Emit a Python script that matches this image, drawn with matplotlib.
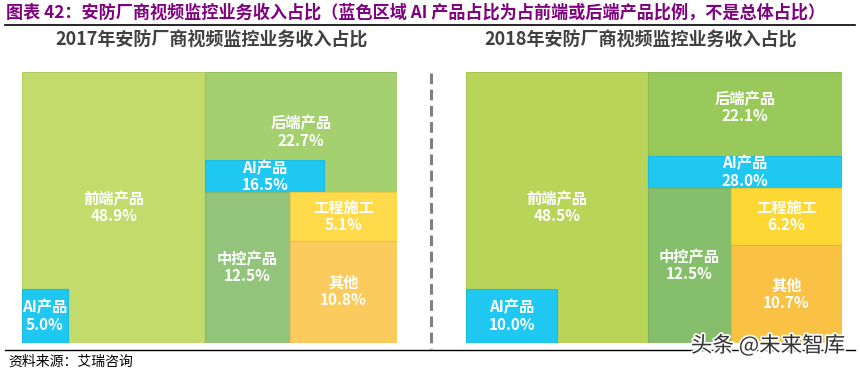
import matplotlib
matplotlib.use("Agg")
import matplotlib.pyplot as plt
from matplotlib.patches import Rectangle
from matplotlib.lines import Line2D
import matplotlib.patheffects as pe
import matplotlib.colors as mcolors

plt.rcParams['font.family'] = ['Noto Sans CJK SC', 'DejaVu Sans']

# ---------------- data ----------------
years = ["2017", "2018"]
categories = ["前端产品", "后端产品", "中控产品", "工程施工", "其他"]
share_2017 = [48.9, 22.7, 12.5, 5.1, 10.8]
share_2018 = [48.5, 22.1, 12.5, 6.2, 10.7]
ai_label = "AI产品"
ai_front = [5.0, 10.0]    # AI share of front-end products (%)
ai_back = [16.5, 28.0]    # AI share of back-end products (%)

title = "图表 42：安防厂商视频监控业务收入占比（蓝色区域 AI 产品占比为占前端或后端产品比例，不是总体占比）"
subtitle_tpl = "{}年安防厂商视频监控业务收入占比"
source = "资料来源：艾瑞咨询"
watermark = "头条 @未来智库"

# ---------------- styles ----------------
colors = [
    {"前端产品": "#C2DB6B", "后端产品": "#A5D070", "中控产品": "#93C47C",
     "工程施工": "#FFDA4A", "其他": "#FBCB5E", "AI": "#1FC8F0"},
    {"前端产品": "#B9D559", "后端产品": "#99C95A", "中控产品": "#86BF6B",
     "工程施工": "#FDD835", "其他": "#F9C244", "AI": "#1FC8F0"},
]
ai_front_wfrac = [0.25, 0.5]
ai_back_wfrac = [0.62, 1.0]

W, H = 860, 371
fig = plt.figure(figsize=(W / 100, H / 100), dpi=100)
fig.patch.set_facecolor("white")

LABEL_FS = 11


def px_axes(x0, y0, x1, y1):
    return fig.add_axes([x0 / W, 1 - y1 / H, (x1 - x0) / W, (y1 - y0) / H])


def darker(c, f=0.93):
    r, g, b = mcolors.to_rgb(c)
    return (r * f, g * f, b * f)


def put_label(ax, x, y, text):
    ax.text(x, y, text, ha="center", va="center", color="white",
            fontsize=LABEL_FS, fontweight="bold", linespacing=1.1)


def cell(ax, x, y, w, h, color, text=None):
    ax.add_patch(Rectangle((x, y), w, h, facecolor=color,
                           edgecolor=darker(color), lw=0.8))
    if text is not None:
        put_label(ax, x + w / 2, y + h / 2, text)


def treemap(ax, vals, afront, aback, cols, wf_front, wf_back):
    front, back, mid, eng, other = vals
    total = sum(vals)
    fw = front / total
    rw = 1 - fw
    bh = back / (total - front)
    mw = mid / (mid + eng + other) * rw
    eh = eng / (eng + other) * (1 - bh)
    lbl = lambda name, v: f"{name}\n{v:.1f}%"
    # front-end
    cell(ax, 0, 0, fw, 1, cols["前端产品"], lbl(categories[0], front))
    # AI inside front-end (bottom-left)
    afw = wf_front * fw
    afh = (afront / 100) / wf_front
    cell(ax, 0, 1 - afh, afw, afh, cols["AI"], lbl(ai_label, afront))
    # back-end
    abh = (aback / 100) / wf_back * bh
    if wf_back >= 1:
        cell(ax, fw, 0, rw, bh, cols["后端产品"])
        put_label(ax, fw + rw / 2, (bh - abh) / 2 * 0.85,
                  lbl(categories[1], back))
    else:
        cell(ax, fw, 0, rw, bh, cols["后端产品"], lbl(categories[1], back))
    cell(ax, fw, bh - abh, wf_back * rw, abh, cols["AI"], lbl(ai_label, aback))
    # middle control
    cell(ax, fw, bh, mw, 1 - bh, cols["中控产品"], lbl(categories[2], mid))
    # engineering
    cell(ax, fw + mw, bh, rw - mw, eh, cols["工程施工"], lbl(categories[3], eng))
    # other
    cell(ax, fw + mw, bh + eh, rw - mw, 1 - bh - eh, cols["其他"],
         lbl(categories[4], other))
    ax.set_xlim(0, 1)
    ax.set_ylim(1, 0)
    ax.axis("off")


panels = [(22, 72, 397, 343), (466, 72, 842, 343)]
all_shares = [share_2017, share_2018]
for i, (x0, y0, x1, y1) in enumerate(panels):
    ax = px_axes(x0, y0, x1, y1)
    treemap(ax, all_shares[i], ai_front[i], ai_back[i], colors[i],
            ai_front_wfrac[i], ai_back_wfrac[i])

# titles
fig.text(6 / W, 1 - 13 / H, title, ha="left", va="center", color="#800080",
         fontsize=12.3, fontweight="bold")
fig.add_artist(Line2D([5 / W, 855 / W], [1 - 25 / H, 1 - 25 / H],
                      color="black", lw=1.2))
fig.text(212 / W, 1 - 40 / H, subtitle_tpl.format(years[0]), ha="center",
         va="center", color="#404040", fontsize=13, fontweight="bold")
fig.text(641 / W, 1 - 40 / H, subtitle_tpl.format(years[1]), ha="center",
         va="center", color="#404040", fontsize=13, fontweight="bold")

# dashed separator
fig.add_artist(Line2D([431 / W, 431 / W], [1 - 73 / H, 1 - 349 / H],
                      color="#808080", lw=2.2, linestyle=(0, (3.5, 1.8))))

# bottom line and source
fig.add_artist(Line2D([5 / W, 855 / W], [1 - 350 / H, 1 - 350 / H],
                      color="black", lw=1.0))
fig.text(8 / W, 1 - 362 / H, source, ha="left", va="center", color="black",
         fontsize=10)

# watermark
fig.text(768 / W, 1 - 346 / H, watermark, ha="center", va="center",
         color="#333333", fontsize=15.5,
         path_effects=[pe.withStroke(linewidth=2.5, foreground="white")])

fig.savefig("out.png", dpi=100, facecolor="white")
